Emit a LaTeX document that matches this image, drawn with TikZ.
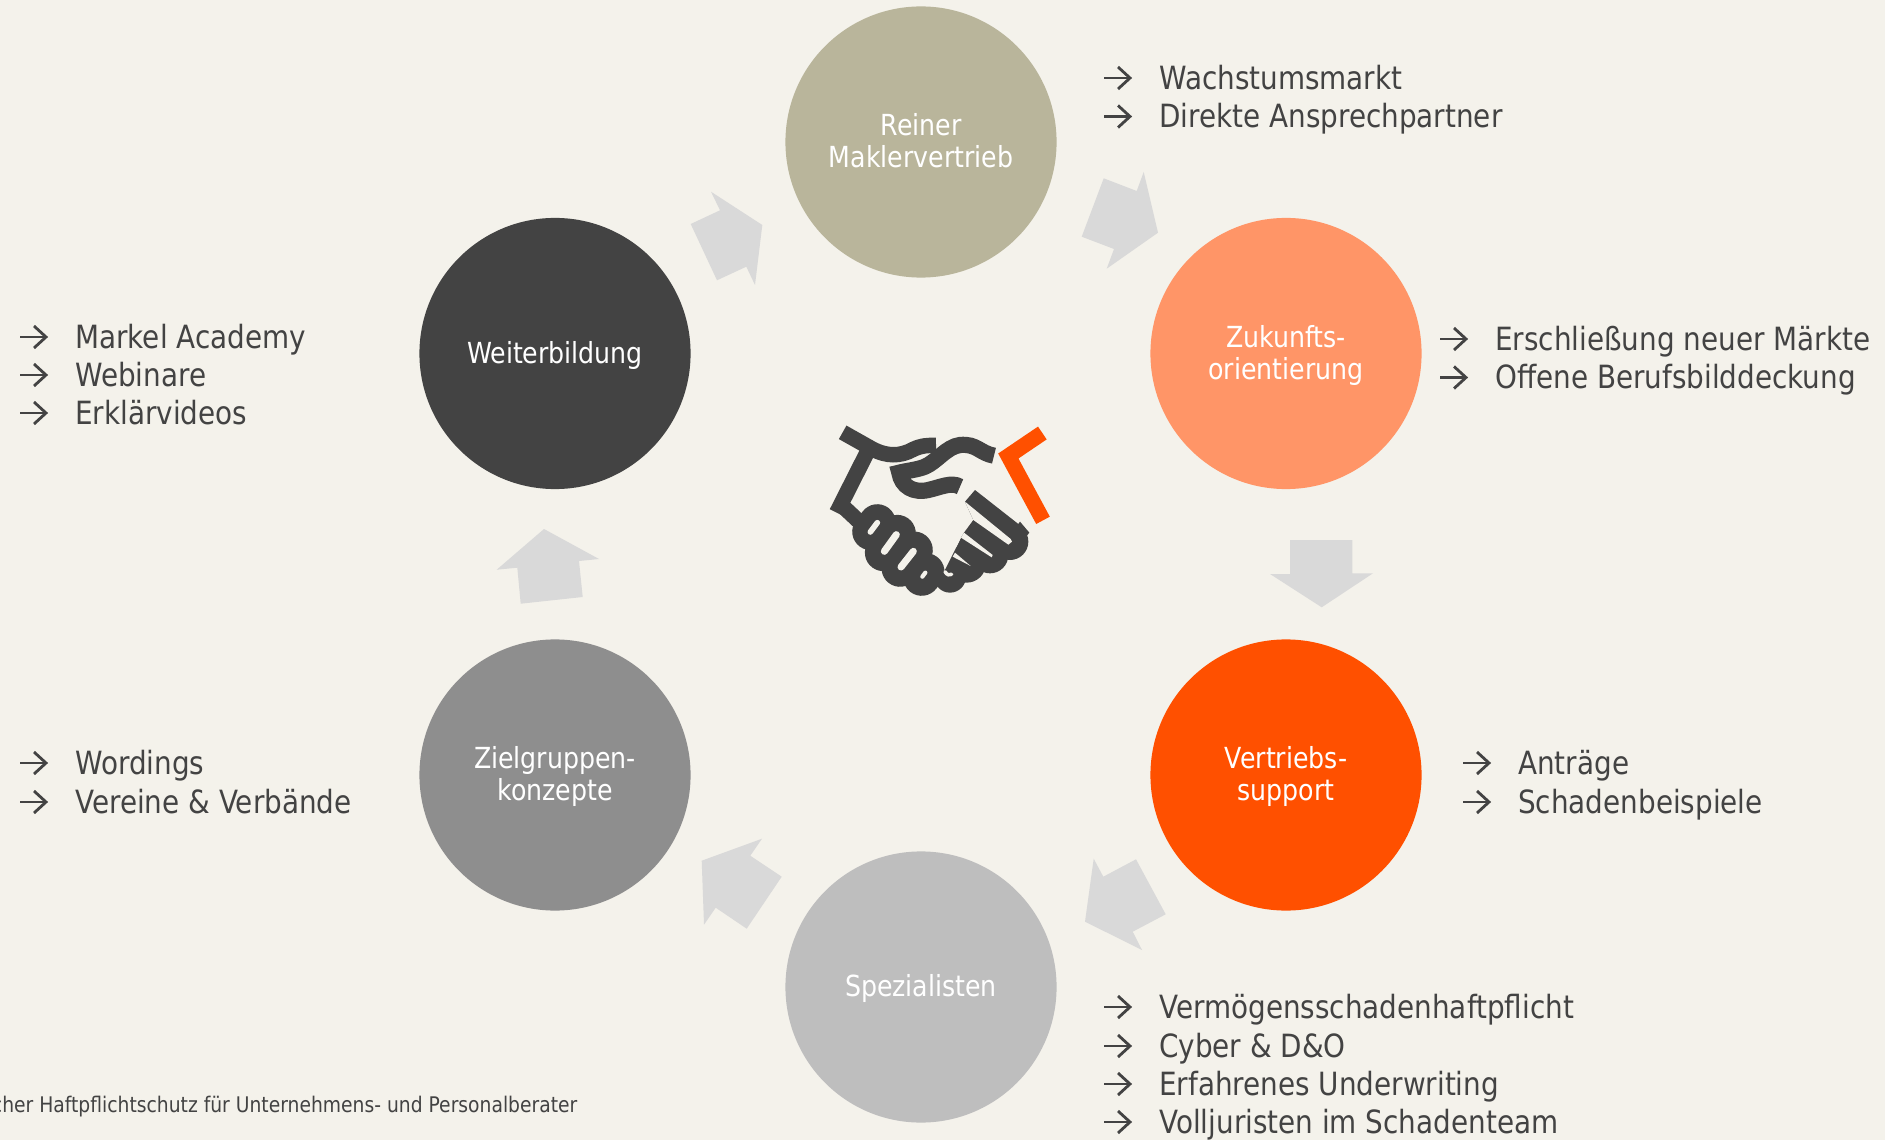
\documentclass[tikz,border=0pt]{standalone}
\usepackage{fontspec}
\setmainfont{DejaVu Sans}[FakeStretch=0.87]
\definecolor{paper}{HTML}{F4F2EB}
\definecolor{ink}{HTML}{434343}
\definecolor{signal}{HTML}{FF5000}
\definecolor{pale}{HTML}{D9D9D9}
\tikzset{
    phase/.style={circle, minimum size=2.71cm, inner sep=0pt, align=center, text=white, text depth=0.7pt, font=\fontsize{8.25}{9.1}\selectfont},
    entry/.style={anchor=base west, inner sep=0pt, text=ink, font=\fontsize{9.1}{11}\selectfont},
    flow/.style={fill=pale},
    listarrow/.pic={
        \draw[ink, line width=0.8pt] (0,0) -- (25,0);
        \draw[ink, line width=0.8pt] (14,-11) -- (26,0) -- (14,11);
    }
}

\begin{document}
\begin{tikzpicture}[x=0.01cm, y=-0.01cm]
        \useasboundingbox (0,0) rectangle (1885,1140);
        \fill[paper] (0,0) rectangle (1885,1140);

        % circles
        \node[phase, fill={rgb,255:red,185;green,181;blue,155}] (makler) at (921,142) {Reiner\\Maklervertrieb};
        \node[phase, fill={rgb,255:red,255;green,149;blue,103}] (zukunft) at (1286,353.5) {Zukunfts-\\orientierung};
        \node[phase, fill=signal] (vertrieb) at (1286,775) {Vertriebs-\\support};
        \node[phase, fill={rgb,255:red,190;green,190;blue,190}] (spezial) at (921,987) {Spezialisten};
        \node[phase, fill={rgb,255:red,142;green,142;blue,142}] (ziel) at (555,775) {Zielgruppen-\\konzepte};
        \node[phase, fill=ink] (weiter) at (555,353.5) {Weiterbildung};

        % block arrows
        \fill[flow] (711,191.7) -- (762.3,225) -- (755,285) -- (746.3,266.7) -- (717,280.3) -- (690.7,224) -- (720,210.3) -- cycle;
        \fill[flow] (1143.7,172) -- (1158,232.7) -- (1106.7,268.7) -- (1114,249) -- (1081.7,236.7) -- (1103.7,178.3) -- (1136.7,191) -- cycle;
        \fill[flow] (1290,540) -- (1352.3,540) -- (1352.3,573.3) -- (1373,573.3) -- (1321.7,607.3) -- (1270,574) -- (1290,574) -- cycle;
        \fill[flow] (1093.7,858.7) -- (1085,921.7) -- (1142,950) -- (1132.7,931.7) -- (1165.7,914.3) -- (1136,859.3) -- (1103.3,876.7) -- cycle;
        \fill[flow] (762,838.7) -- (701.7,860.7) -- (704,924.7) -- (715.7,907.7) -- (746.7,928.7) -- (781.7,876.7) -- (750.3,855.7) -- cycle;
        \fill[flow] (544,529) -- (599,559) -- (579,561) -- (582.7,597) -- (520.7,603.7) -- (517.3,567.7) -- (496.7,569.7) -- cycle;

        % lists
        \foreach \nm/\ax/\ay/\txt in {
            wachstum/1104/78/Wachstumsmarkt,
            direkt/1104/116.5/Direkte Ansprechpartner,
            markt/1440/339/Erschließung neuer Märkte,
            beruf/1440/377.5/Offene Berufsbilddeckung,
            antrag/1463/763/Anträge,
            schaden/1463/802/Schadenbeispiele,
            haftung/1104/1007/Vermögensschadenhaftpflicht,
            cyber/1104/1046/Cyber \& D\&O,
            under/1104/1084/Erfahrenes Underwriting,
            juristen/1104/1122/Volljuristen im Schadenteam,
            academy/20/337/Markel Academy,
            webinar/20/375/Webinare,
            video/20/413/Erklärvideos,
            wording/20/763/Wordings,
            verein/20/802/Vereine \& Verbände
        }{
            \path (\ax,\ay) pic {listarrow};
            \node[entry] (\nm) at ([xshift=54.5*0.01cm,yshift=-11.5*0.01cm]\ax*0.01cm,-\ay*0.01cm) {\txt};
        }

        % footer
        \node[anchor=base east, inner sep=0pt, text=ink, font=\fontsize{6.12}{7}\selectfont] (footer) at (578,1112) {cher Haftpflichtschutz für Unternehmens- und Personalberater};

        % handshake
        \begin{scope}[shift={(800,400)}, x=0.01cm/3, y=-0.01cm/3]
            % right hand
            \fill[ink] (630,425) circle (55);
            \fill[ink] (570,465) circle (55);
            \fill[ink] (500,490) circle (58);
            \fill[ink] (450,530) circle (48);
            \fill[ink] (525,270) -- (655,372) -- (660,365) -- (688,398) -- (670,420) -- (600,480) -- (470,540) -- (432,520) -- (437,505) -- (455,470) -- (483,413) -- (492,398) -- (520,360) -- (495,305) -- cycle;
            \fill[paper] (495,305) -- (632,417) -- (636,425) -- (625,434) -- (520,360) -- cycle;
            \fill[paper] (492,398) -- (578,465) -- (575,472) -- (483,413) -- cycle;
            \fill[paper] (465,458) -- (512,498) -- (458,470) -- cycle;
            \fill[paper] (483,413) -- (420,400) -- (400,470) -- (432,512) -- (437,505) -- cycle;
            % left hand
            \draw[ink, line width=4.4pt] (128,97) -- (215,146) .. controls (260,170) and (300,170) .. (340,148) .. controls (365,136) and (385,136) .. (408,136);
            \draw[ink, line width=4.4pt] (205,150) -- (110,338);
            \draw[ink, line width=4.4pt] (135,325) -- (185,372);
            \draw[ink, line width=10.5pt, line cap=round] (212,395) -- (232,368);
            \draw[ink, line width=10.5pt, line cap=round] (250,458) -- (292,400);
            \draw[ink, line width=10.5pt, line cap=round] (300,505) -- (343,450);
            \draw[ink, line width=10.5pt, line cap=round] (365,532) -- (378,515);
            \draw[paper, line width=1.6pt, line cap=round] (211,396) -- (232,368);
            \draw[paper, line width=2pt, line cap=round] (253,454) -- (289,404);
            \draw[paper, line width=2pt, line cap=round] (303,501) -- (340,454);
            \draw[paper, line width=1.2pt, line cap=round] (367,530) -- (376,518);
            \draw[paper, line width=1pt, line cap=round] (435,515) .. controls (440,525) and (450,527) .. (455,523);
            \draw[ink, line width=4.6pt] (582,167) .. controls (540,160) and (530,130) .. (480,135) .. controls (440,140) and (410,185) .. (375,200) .. controls (350,210) and (320,212) .. (298,218) .. controls (305,260) and (340,280) .. (385,270) .. controls (420,262) and (455,245) .. (480,260);
            % orange corner
            \draw[signal, line width=4.4pt] (727,99) -- (625,168) -- (729,361);
        \end{scope}
\end{tikzpicture}
\end{document}
